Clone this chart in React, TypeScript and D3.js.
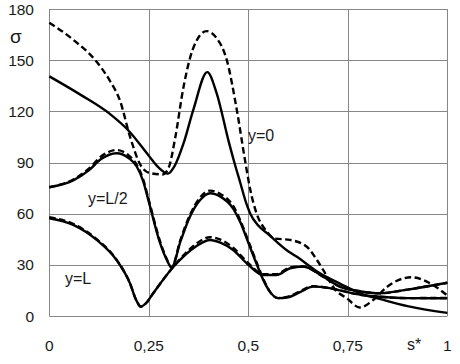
import React, { useEffect, useRef } from "react";
import * as d3 from "d3";

// tick values and their labels
const xTicks = [0, 0.25, 0.5, 0.75, 1];
const xTickLabels = ["0", "0,25", "0,5", "0,75", "1"];
const yTicks = [0, 30, 60, 90, 120, 150, 180];

// [s*, sigma]
const y0Solid: [number, number][] = [
  [0, 140.5], [0.08, 129.5], [0.152, 118.5], [0.2, 108.5], [0.25, 94], [0.275, 87],
  [0.298, 83.5], [0.315, 88], [0.337, 101], [0.362, 121], [0.397, 143],
  [0.42, 131], [0.45, 103], [0.465, 90], [0.48, 78], [0.495, 66], [0.505, 60], [0.525, 53],
  [0.55, 48], [0.6, 38], [0.62, 35], [0.68, 25], [0.73, 19], [0.79, 12.5], [0.83, 10],
  [0.9, 5.8], [1, 1.8],
];

const y0Dash: [number, number][] = [
  [0, 172], [0.06, 162], [0.119, 149], [0.152, 138], [0.178, 126], [0.203, 105], [0.228, 89],
  [0.25, 84], [0.285, 83], [0.3, 87], [0.316, 104], [0.337, 134], [0.36, 156], [0.395, 167],
  [0.42, 163], [0.446, 150], [0.471, 121], [0.492, 91], [0.505, 74], [0.521, 60], [0.545, 50],
  [0.565, 45.5], [0.605, 44.6], [0.647, 40.6], [0.672, 33], [0.688, 27], [0.72, 15],
  [0.747, 10.5], [0.78, 5], [0.814, 9.4], [0.848, 17], [0.91, 22.7], [0.965, 18], [1, 12],
];

const halfSolid: [number, number][] = [
  [0, 75.5], [0.06, 79.5], [0.1, 85.5], [0.13, 92], [0.169, 95.4], [0.2, 92.5], [0.22, 87.5],
  [0.236, 79], [0.25, 67], [0.278, 43], [0.295, 33], [0.307, 28.5], [0.33, 44], [0.353, 58],
  [0.379, 68], [0.404, 72], [0.43, 70], [0.462, 63], [0.48, 55], [0.5, 43], [0.52, 31],
  [0.54, 20], [0.555, 14], [0.575, 10.5], [0.6, 11], [0.63, 14], [0.663, 17.2], [0.7, 16.5],
  [0.73, 15], [0.78, 12.5], [0.83, 11.3], [0.9, 10.5], [1, 10.4],
];

const halfDash: [number, number][] = [
  [0, 75.5], [0.06, 80], [0.1, 86.5], [0.13, 93.5], [0.169, 97.3], [0.2, 94], [0.22, 88.5],
  [0.236, 80], [0.25, 68], [0.278, 44], [0.295, 33.5], [0.307, 28.5], [0.33, 45], [0.353, 59],
  [0.379, 69.5], [0.404, 73.5], [0.43, 71.5], [0.462, 64.5], [0.48, 56], [0.5, 44], [0.52, 32],
  [0.54, 20.5], [0.555, 14], [0.575, 10.5], [0.6, 11.3], [0.63, 14.5], [0.663, 17.5], [0.7, 16.5],
  [0.73, 15], [0.78, 12.5], [0.83, 11.3], [0.9, 10.5], [1, 10.6],
];

const lSolid: [number, number][] = [
  [0, 57.3], [0.06, 53.4], [0.119, 44.6], [0.169, 32.8], [0.203, 19], [0.218, 9.5], [0.23, 5.5],
  [0.245, 8], [0.261, 13.3], [0.312, 28.9], [0.337, 34.8], [0.37, 41], [0.404, 44.6],
  [0.43, 43], [0.462, 38.7], [0.5, 30], [0.538, 24], [0.571, 24], [0.605, 28], [0.638, 29],
  [0.688, 23], [0.73, 17.2], [0.78, 14.5], [0.83, 13.3], [0.9, 15.5], [1, 19.5],
];

const lDash: [number, number][] = [
  [0, 58], [0.06, 54], [0.119, 45], [0.169, 33], [0.203, 19], [0.218, 9.5], [0.23, 5.5],
  [0.245, 8], [0.261, 13.3], [0.312, 29], [0.337, 35.5], [0.37, 42.5], [0.404, 46.2],
  [0.43, 44.8], [0.462, 40], [0.5, 31], [0.538, 24.5], [0.571, 24.5], [0.605, 28.5], [0.638, 29],
  [0.688, 23], [0.73, 17.2], [0.78, 14.5], [0.83, 13.3], [0.9, 15.5], [1, 19.5],
];

const series = [
  { data: y0Solid, dashed: false },
  { data: y0Dash, dashed: true },
  { data: halfSolid, dashed: false },
  { data: halfDash, dashed: true },
  { data: lSolid, dashed: false },
  { data: lDash, dashed: true },
];

export default function App() {
  const svgRef = useRef<SVGSVGElement>(null);

  useEffect(() => {
    const width = 460;
    const height = 364;

    const x = d3.scaleLinear().domain([0, 1]).range([49.3, 447.3]);
    const y = d3.scaleLinear().domain([0, 180]).range([316, 9]);

    const svg = d3.select(svgRef.current)
      .attr("width", width)
      .attr("height", height)
      .attr("viewBox", [0, 0, width, height]);

    svg.selectAll("*").remove();

    svg.append("rect").attr("width", width).attr("height", height).attr("fill", "white");

    // grid
    const grid = svg.append("g").attr("stroke", "#878787").attr("stroke-width", 1);
    grid.selectAll("line.h")
      .data(yTicks)
      .join("line")
      .attr("class", "h")
      .attr("x1", x(0))
      .attr("x2", x(1))
      .attr("y1", d => Math.round(y(d)) + 0.5)
      .attr("y2", d => Math.round(y(d)) + 0.5);
    grid.selectAll("line.v")
      .data(xTicks)
      .join("line")
      .attr("class", "v")
      .attr("y1", y(180))
      .attr("y2", y(0))
      .attr("x1", d => Math.round(x(d)) + 0.5)
      .attr("x2", d => Math.round(x(d)) + 0.5);

    const font = "'Liberation Sans', Arial, sans-serif";

    // tick labels
    svg.append("g")
      .selectAll("text")
      .data(yTicks)
      .join("text")
      .attr("x", 34)
      .attr("y", d => y(d) + 5.5)
      .attr("text-anchor", "end")
      .attr("font-family", font)
      .attr("font-size", 15.5)
      .attr("fill", "#1a1a1a")
      .text(d => d);

    svg.append("g")
      .selectAll("text")
      .data(xTicks)
      .join("text")
      .attr("x", d => x(d))
      .attr("y", 351)
      .attr("text-anchor", "middle")
      .attr("font-family", font)
      .attr("font-size", 15.5)
      .attr("fill", "#1a1a1a")
      .text((d, i) => xTickLabels[i]);

    // curves
    const line = d3.line<[number, number]>()
      .x(d => x(d[0]))
      .y(d => y(d[1]))
      .curve(d3.curveMonotoneX);

    svg.append("g")
      .attr("fill", "none")
      .attr("stroke", "#000")
      .attr("stroke-width", 2.4)
      .selectAll("path")
      .data(series)
      .join("path")
      .attr("stroke-dasharray", d => (d.dashed ? "6.5,3.5" : null))
      .attr("d", d => line(d.data));

    // annotations
    const notes = [
      { text: "y=0", x: 248, y: 141 },
      { text: "y=L/2", x: 88, y: 204 },
      { text: "y=L", x: 65, y: 284 },
      { text: "s*", x: 407, y: 350 },
    ];
    svg.append("g")
      .selectAll("text")
      .data(notes)
      .join("text")
      .attr("x", d => d.x)
      .attr("y", d => d.y)
      .attr("font-family", font)
      .attr("font-size", 16)
      .attr("fill", "#1a1a1a")
      .text(d => d.text);

    svg.append("text")
      .attr("x", 10)
      .attr("y", 43)
      .attr("font-family", font)
      .attr("font-size", 19)
      .attr("fill", "#1a1a1a")
      .text("σ");

    return () => {
      d3.select(svgRef.current).selectAll("*").remove();
    };
  }, []);

  return (
    <div style={{ position: "absolute", left: 0, top: 0 }}>
      <svg ref={svgRef} style={{ display: "block" }} />
    </div>
  );
}
